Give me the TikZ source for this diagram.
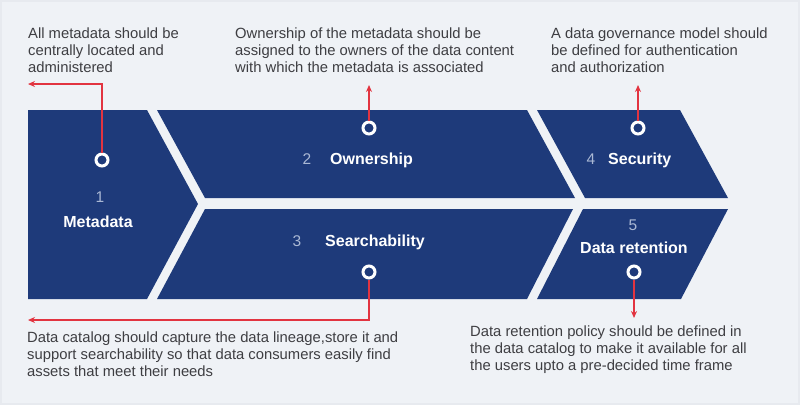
\documentclass[tikz,border=0pt]{standalone}
\usepackage{fontspec}
\setmainfont{Liberation Sans}
\usetikzlibrary{arrows.meta}
\definecolor{navy}{RGB}{30,58,122}
\definecolor{bgcol}{RGB}{239,242,246}
\definecolor{framecol}{RGB}{231,234,239}
\definecolor{arrowred}{RGB}{226,52,64}
\definecolor{numcol}{RGB}{170,184,212}
\definecolor{txtcol}{RGB}{62,62,66}
\tikzset{
  block/.style={fill=navy},
  ring/.style={circle, draw=white, line width=3pt, fill=navy, minimum size=12pt, inner sep=0pt},
  callout/.style={draw=arrowred, line width=1.2pt, -{Stealth[length=7pt,width=6pt]}},
  note/.style={anchor=north west, align=left, inner sep=0pt, text=txtcol, font=\fontsize{14.8}{17}\selectfont},
  title/.style={anchor=base, inner sep=0pt, text=white, font=\bfseries\fontsize{16}{18}\selectfont},
  num/.style={anchor=base, inner sep=0pt, text=numcol, font=\fontsize{15.5}{18}\selectfont}
}
\begin{document}
\begin{tikzpicture}[x=1pt, y=-1pt]
		\useasboundingbox (0,0) rectangle (800,405);
		\fill[bgcol, draw=framecol, line width=2pt] (1,1) rectangle (799,404);
		
		\fill[block] (28,110) -- (147,110) -- (198,204) -- (147,299) -- (28,299) -- cycle;
		\fill[block] (157,110) -- (527,110) -- (575,198) -- (205,198) -- cycle;
		\fill[block] (205,209) -- (573,209) -- (527,299) -- (157,299) -- cycle;
		\fill[block] (537,110) -- (680,110) -- (728,198) -- (585,198) -- cycle;
		\fill[block] (583,209) -- (728,209) -- (681,299) -- (537,299) -- cycle;
		
		\node[num] (n1) at (100,202) {1};
		\node[title] (metadata) at (98,227) {Metadata};
		\node[num] (n2) at (307,164) {2};
		\node[title, anchor=base west] (ownership) at (330,164) {Ownership};
		\node[num] (n3) at (297,246) {3};
		\node[title, anchor=base west] (searchability) at (325,246) {Searchability};
		\node[num] (n4) at (591,164) {4};
		\node[title, anchor=base west] (security) at (608,164) {Security};
		\node[num] (n5) at (633,230) {5};
		\node[title] (retention) at (634,253) {Data retention};
		
		\node[note] (t1) at (28,27.5) {All metadata should be\\centrally located and\\administered};
		\node[note] (t2) at (235,27.5) {Ownership of the metadata should be\\assigned to the owners of the data content\\with which the metadata is associated};
		\node[note] (t4) at (551,27.5) {A data governance model should\\be defined for authentication\\and authorization};
		\node[note] (t3) at (27,332) {Data catalog should capture the data lineage,store it and\\support searchability so that data consumers easily find\\assets that meet their needs};
		\node[note] (t5) at (470,326) {Data retention policy should be defined in\\the data catalog to make it available for all\\the users upto a pre-decided time frame};
		
		\node[ring] (c1) at (102,160) {};
		\node[ring] (c2) at (369,128) {};
		\node[ring] (c3) at (369,272) {};
		\node[ring] (c4) at (638,128) {};
		\node[ring] (c5) at (634,272) {};
		
		\coordinate (a1) at (28,84);
		\coordinate (a2) at (369,85);
		\coordinate (a3) at (28,320);
		\coordinate (a4) at (638,85);
		\coordinate (a5) at (634,318);
		
		\draw[callout] (c1.north) |- (a1);
		\draw[callout] (c2.north) -- (a2);
		\draw[callout] (c3.south) |- (a3);
		\draw[callout] (c4.north) -- (a4);
		\draw[callout] (c5.south) -- (a5);
\end{tikzpicture}
\end{document}
